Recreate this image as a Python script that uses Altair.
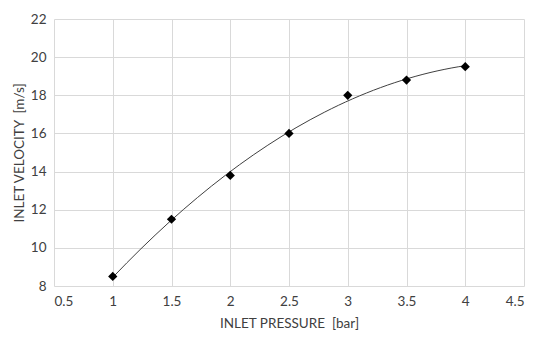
import altair as alt
import pandas as pd

pressure = [1, 1.5, 2, 2.5, 3, 3.5, 4]
velocity = [8.5, 11.5, 13.8, 16.0, 18.0, 18.8, 19.5]

df = pd.DataFrame({"p": pressure, "v": velocity})

FONT = "Lato"

x = alt.X("p:Q", scale=alt.Scale(domain=[0.5, 4.5], nice=False, zero=False),
          axis=alt.Axis(title="INLET PRESSURE\u00a0\u00a0[bar]", values=[0.5, 1, 1.5, 2, 2.5, 3, 3.5, 4, 4.5],
                        format="~g"))
y = alt.Y("v:Q", scale=alt.Scale(domain=[8, 22], nice=False, zero=False),
          axis=alt.Axis(title="INLET VELOCITY\u00a0\u00a0[m/s]", values=[8, 10, 12, 14, 16, 18, 20, 22]))

base = alt.Chart(df)

trend = base.transform_regression("p", "v", method="poly", order=2, extent=[1, 4]).mark_line(
    color="#404040", strokeWidth=1, interpolate="monotone"
).encode(x=x, y=y)

pts = base.mark_point(shape="diamond", filled=True, color="black", size=85, opacity=1).encode(x=x, y=y)

chart = (trend + pts).properties(
    width=470, height=267,
    autosize=alt.AutoSizeParams(type="none"),
    padding={"left": 46, "top": 11, "right": 10, "bottom": 50},
).configure_view(stroke=None).configure_axis(
    grid=True, gridColor="#d9d9d9", gridWidth=1,
    domain=False, ticks=False,
    labelFont=FONT, labelFontSize=13.5, labelColor="#404040", labelPadding=8,
    titleFont=FONT, titleFontSize=13.5, titleColor="#404040", titleFontWeight="normal",
).configure_axisX(titlePadding=9).configure_axisY(titlePadding=4)

chart.save("out.html", embed_options={"renderer": "svg", "actions": False})
